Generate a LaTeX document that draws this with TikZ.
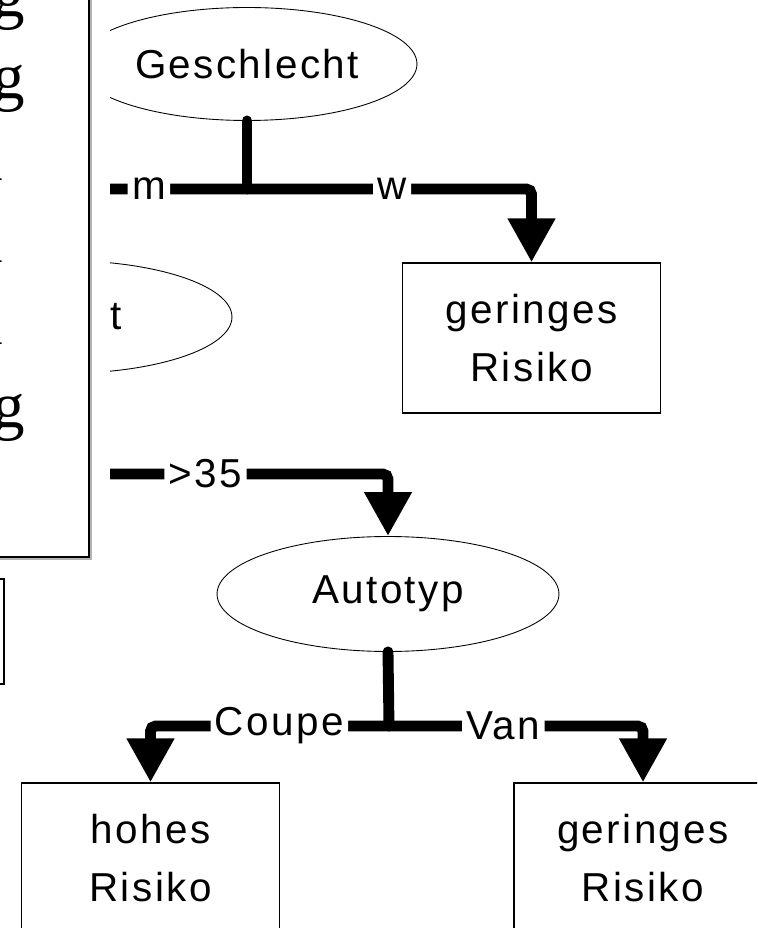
\documentclass[tikz,border=0pt]{standalone}
\usepackage{fontspec}
\newfontfamily\treefont{Liberation Sans}[LetterSpace=6]
\newfontfamily\tabfont{Liberation Serif}
\usetikzlibrary{arrows.meta,shapes.geometric}

\begin{document}
\begin{tikzpicture}[x=0.02cm, y=-0.02cm,
 attr/.style={ellipse, draw=black, line width=0.5pt, minimum width=6.8cm, minimum height=2.26cm, inner sep=0pt, font=\treefont\fontsize{23}{33}\selectfont},
 leaf/.style={rectangle, draw=black, line width=0.7pt, minimum width=5.16cm, minimum height=3cm, align=center, font=\treefont\fontsize{23}{33}\selectfont},
 branch/.style={line width=6.2pt, rounded corners=3pt, -{Triangle[length=25pt,width=25.5pt]}},
 stem/.style={line width=6.2pt, line cap=round},
 lab/.style={fill=white, inner xsep=2.5pt, inner ysep=1pt, font=\treefont\fontsize{23}{33}\selectfont},
 tabword/.style={anchor=base, inner sep=0pt, font=\tabfont\fontsize{37}{44}\selectfont}]
\useasboundingbox (0,0) rectangle (757,928);
\clip (0,0) rectangle (757,928);

\node[attr] (gesch) at (247,64) {Geschlecht};
\node[attr] (alter) at (62,317) {};
\node[inner sep=0pt, font=\treefont\fontsize{23}{33}\selectfont] (altert) at (116,317) {t};
\node[attr, minimum height=2.3cm, minimum width=6.84cm] (autotyp) at (388,594) {Autotyp};

\node[leaf] (leafw) at (531.5,338) {geringes\\Risiko};
\node[leaf] (leafcoupe) at (150.5,858) {hohes\\Risiko};
\node[leaf] (leafvan) at (643,858) {geringes\\Risiko};

\coordinate (gsplit) at (247,189);
\coordinate (asplit) at (62,474);
\coordinate (tsplit) at (389,726);

% Geschlecht
\draw[stem] (gesch.south) -- (gsplit);
\draw[branch] (gsplit) -| node[lab, pos=.265] (labm) {m} (alter.north);
\draw[branch] (gsplit) -| node[lab, pos=.255] (labw) {w} (leafw.north);

% Alter
\draw[stem] (alter.south) -- (asplit);
\draw[branch] (asplit) -| node[lab, pos=.22] (lab35) {>35} (autotyp.north);

% Autotyp
\draw[stem] (autotyp.south) -- (tsplit);
\draw[branch] (tsplit) -| node[lab, pos=.23] (labcoupe) {Coupe} (leafcoupe.north);
\draw[branch] (tsplit) -| node[lab, pos=.225] (labvan) {Van} (leafvan.north);

% table on the left
\fill[white] (-10,-10) rectangle (110,567);
\draw[gray!60, line width=1.7pt] (-10,559) -- (91,559) -- (91,-10);
\draw[line width=1.7pt] (-10,557) -- (89,557) -- (89,-10);
\node[tabword] (row1) at (-58,17) {gering};
\node[tabword] (row2) at (-58,99) {gering};
\node[tabword] (row3) at (-60,181) {hoch};
\node[tabword] (row4) at (-60,263) {hoch};
\node[tabword] (row5) at (-60,345) {hoch};
\node[tabword] (row6) at (-58,427) {gering};
\draw[line width=0.6pt] (-10,579) -- (4,579) -- (4,684) -- (-10,684);
\end{tikzpicture}
\end{document}
